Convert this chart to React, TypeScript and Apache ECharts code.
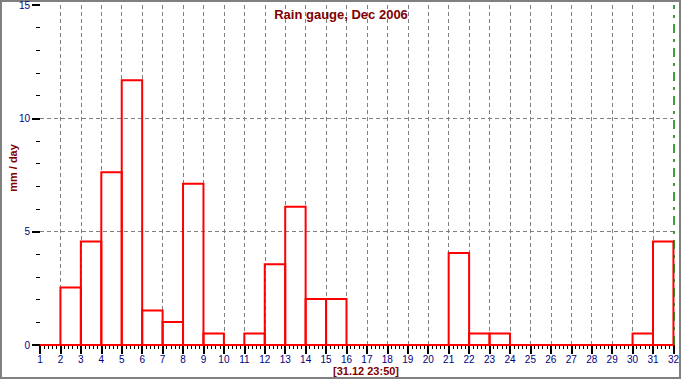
import React, { useEffect, useRef } from "react";
import * as echarts from "echarts";

const days = [1, 2, 3, 4, 5, 6, 7, 8, 9, 10, 11, 12, 13, 14, 15, 16, 17, 18, 19, 20, 21, 22, 23, 24, 25, 26, 27, 28, 29, 30, 31];
const rain = [0, 2.54, 4.57, 7.62, 11.68, 1.52, 1.02, 7.11, 0.51, 0, 0.51, 3.56, 6.1, 2.03, 2.03, 0, 0, 0, 0, 0, 4.06, 0.51, 0.51, 0, 0, 0, 0, 0, 0, 0.51, 4.57];
const titleText = "Rain gauge, Dec 2006";
const yName = "mm / day";
const xName = "[31.12 23:50]";
const nowDay = 32;

export default function App() {
  const ref = useRef<HTMLDivElement>(null);
  useEffect(() => {
    if (!ref.current) return;
    const chart = echarts.init(ref.current, undefined, { renderer: "svg" });
    const font = "'Liberation Sans', Arial, sans-serif";
    const gridColor = "#808080";
    chart.setOption({
      animation: false,
      backgroundColor: "#ffffff",
      title: {
        text: titleText,
        left: "center",
        top: 3,
        textStyle: { color: "#800000", fontSize: 13, fontWeight: "bold", fontFamily: font },
      },
      grid: { left: 40, right: 5, top: 4, bottom: 35 },
      xAxis: {
        type: "value",
        min: 1,
        max: 32,
        interval: 1,
        axisLine: { show: false },
        axisTick: { show: true, length: 9, lineStyle: { color: "#000000", width: 2 } },
        minorTick: { show: true, splitNumber: 5, length: 4, lineStyle: { color: "#000000", width: 1 } },
        axisLabel: { color: "#000080", fontSize: 10, lineHeight: 10, fontFamily: font, margin: 9 },
        splitLine: {
          show: true,
          showMinLine: false,
          showMaxLine: false,
          lineStyle: { color: gridColor, type: [4, 3], width: 1 },
        },
      },
      yAxis: {
        type: "value",
        min: 0,
        max: 15,
        interval: 5,
        axisLine: { show: false },
        axisTick: { show: true, length: 8, lineStyle: { color: "#000000", width: 2 } },
        minorTick: { show: true, splitNumber: 5, length: 4, lineStyle: { color: "#000000", width: 1 } },
        axisLabel: { color: "#000080", fontSize: 10, fontFamily: font, margin: 10 },
        splitLine: {
          show: true,
          showMinLine: false,
          showMaxLine: false,
          lineStyle: { color: gridColor, type: [4, 3], width: 1 },
        },
      },
      graphic: [
        {
          type: "rect",
          shape: { x: 1, y: 1, width: 679, height: 377 },
          style: { fill: "none", stroke: "#808080", lineWidth: 2 },
          silent: true,
        },
        {
          type: "text",
          x: 13,
          y: 168,
          rotation: Math.PI / 2,
          style: {
            text: yName,
            fill: "#800000",
            font: "bold 11px 'Liberation Sans', Arial, sans-serif",
            lineHeight: 12,
            align: "center",
            verticalAlign: "middle",
          },
        },
        {
          type: "text",
          x: 366,
          y: 370.5,
          style: {
            text: xName,
            fill: "#800000",
            font: "bold 11px 'Liberation Sans', Arial, sans-serif",
            lineHeight: 12,
            align: "center",
            verticalAlign: "middle",
          },
        },
      ],
      series: [
        {
          type: "custom",
          name: "rain",
          encode: { x: 0, y: 1 },
          data: days.map((d, i) => [d, rain[i]]),
          renderItem: (params: any, api: any) => {
            const d = api.value(0);
            const v = api.value(1);
            const p0 = api.coord([d, v]);
            const p1 = api.coord([d + 1, 0]);
            return {
              type: "rect",
              shape: { x: p0[0], y: p0[1], width: p1[0] - p0[0], height: p1[1] - p0[1] },
              style: { fill: "none", stroke: "#ff0000", lineWidth: 2 },
            };
          },
          z: 3,
        },
        {
          type: "line",
          name: "now",
          data: [],
          markLine: {
            silent: true,
            symbol: "none",
            label: { show: false },
            lineStyle: { color: "#008000", width: 1.5, type: [9, 6, 3, 6] },
            data: [{ xAxis: nowDay }],
          },
          z: 4,
        },
      ],
    });
    return () => chart.dispose();
  }, []);
  return (
    <div
      ref={ref}
      style={{ position: "fixed", left: 0, top: 0, width: 682, height: 380 }}
    />
  );
}
